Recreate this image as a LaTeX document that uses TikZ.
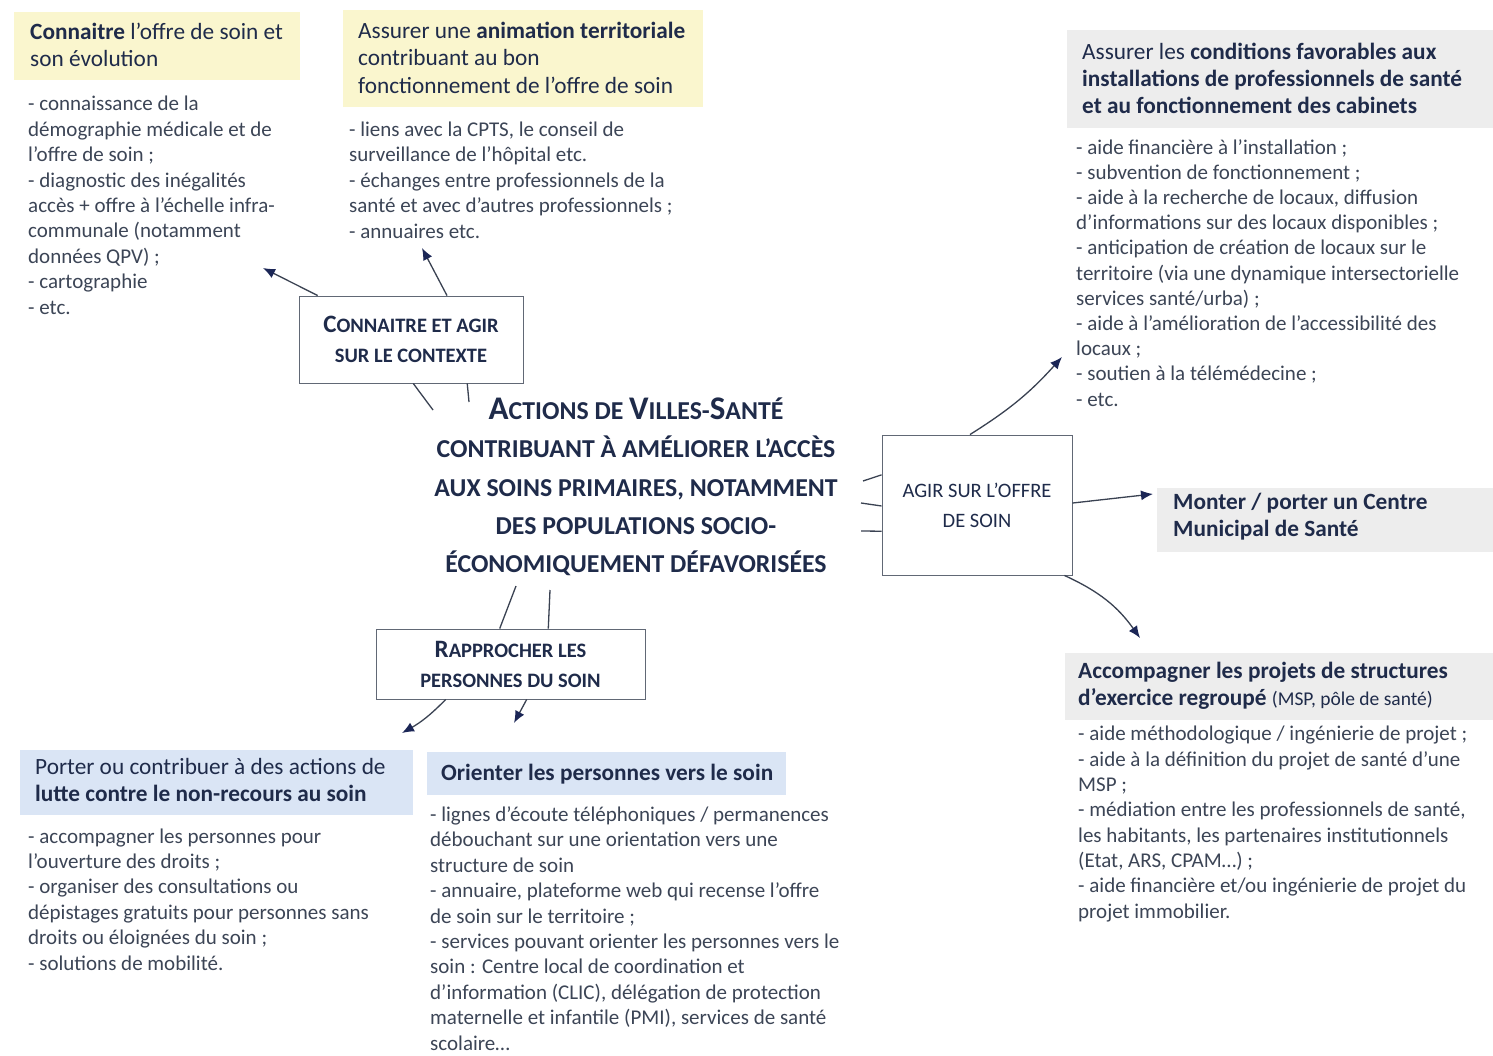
\documentclass[tikz,border=0pt]{standalone}
\usepackage{fontspec}
\setmainfont{Carlito}
\usetikzlibrary{arrows.meta,calc}
\definecolor{yel}{HTML}{FAF6CE}
\definecolor{blu}{HTML}{DAE5F5}
\definecolor{gry}{HTML}{EDEDED}
\definecolor{navy}{HTML}{1F2B4A}
\definecolor{bodyc}{HTML}{3C4556}
\definecolor{linec}{HTML}{3A4252}
\definecolor{tipc}{HTML}{1B2656}
\newcommand\TBig[1]{{\fontsize{33}{33}\selectfont #1}}
\newcommand\BBig[1]{{\fontsize{25}{25}\selectfont #1}}
\tikzset{
  x=1pt, y=-1pt,
  hfill/.style={inner sep=0pt, anchor=north west, minimum width=#1},
  htext/.style={inner sep=0pt, anchor=west, align=left, text=navy, font=\fontsize{23.3}{27.3}\selectfont},
  listtext/.style={inner sep=0pt, anchor=base west, align=left, text=bodyc, font=\fontsize{21}{25.4}\selectfont},
  actbox/.style={draw=linec!80, line width=0.9pt, fill=white, inner sep=0pt, align=center, text=navy, font=\fontsize{20.5}{30}\selectfont\bfseries},
  conn/.style={draw=linec, line width=1.3pt},
  arr/.style={conn, -{Latex[length=12pt, width=10pt, fill=tipc, color=tipc]}},
  titletext/.style={inner sep=0pt, align=center, text=navy, font=\fontsize{25.8}{38.3}\selectfont\bfseries}
}
\begin{document}
\begin{tikzpicture}
\useasboundingbox (0,0) rectangle (1493,1055);
\fill[white] (0,0) rectangle (1493,1055);

% ---------- heading boxes ----------
\node[hfill=286, minimum height=68, fill=yel] (h1) at (14,12) {};
\node[htext] (h1t) at ([xshift=16,yshift=1]h1.west) {\textbf{Connaitre} l’offre de soin et\\son évolution};

\node[hfill=360, minimum height=97, fill=yel] (h2) at (343,10) {};
\node[htext] (h2t) at ([xshift=15,yshift=1]h2.west) {Assurer une \textbf{animation territoriale}\\contribuant au bon\\fonctionnement de l’offre de soin};

\node[hfill=426, minimum height=98, fill=gry] (h3) at (1067,30) {};
\node[htext] (h3t) at ([xshift=15,yshift=1]h3.west) {Assurer les \textbf{conditions favorables aux}\\\textbf{installations de professionnels de santé}\\\textbf{et au fonctionnement des cabinets}};

\node[hfill=336, minimum height=64, fill=gry] (h4) at (1157,488) {};
\node[htext, font=\fontsize{23.3}{27}\selectfont\bfseries] (h4t) at ([xshift=16,yshift=4]h4.west) {Monter / porter un Centre\\Municipal de Santé};

\node[hfill=428, minimum height=67, fill=gry] (h5) at (1065,653) {};
\node[htext] (h5t) at ([xshift=13,yshift=1]h5.west) {\textbf{Accompagner les projets de structures}\\\textbf{d’exercice regroupé} {\fontsize{19.5}{20}\selectfont (MSP, pôle de santé)}};

\node[hfill=393, minimum height=65, fill=blu] (h6) at (20,750) {};
\node[htext] (h6t) at ([xshift=15,yshift=3]h6.west) {Porter ou contribuer à des actions de\\\textbf{lutte contre le non-recours au soin}};

\node[hfill=359, minimum height=43, fill=blu] (h7) at (427,752) {};
\node[htext] (h7t) at ([xshift=14,yshift=0]h7.west) {\textbf{Orienter les personnes vers le soin}};

% ---------- lists (anchored at the baseline of their last line) ----------
\node[listtext] (l1) at (28,314) {- connaissance de la\\démographie médicale et de\\l’offre de soin ;\\- diagnostic des inégalités\\accès + offre à l’échelle infra-\\communale (notamment\\données QPV) ;\\- cartographie\\- etc.};

\node[listtext] (l2) at (349,238) {- liens avec la CPTS, le conseil de\\surveillance de l’hôpital etc.\\- échanges entre professionnels de la\\santé et avec d’autres professionnels ;\\- annuaires etc.};

\node[listtext, font=\fontsize{21}{25.2}\selectfont] (l3) at (1076,406) {- aide financière à l’installation ;\\- subvention de fonctionnement ;\\- aide à la recherche de locaux, diffusion\\d’informations sur des locaux disponibles ;\\- anticipation de création de locaux sur le\\territoire (via une dynamique intersectorielle\\services santé/urba) ;\\- aide à l’amélioration de l’accessibilité des\\locaux ;\\- soutien à la télémédecine ;\\- etc.};

\node[listtext, font=\fontsize{21}{25.3}\selectfont] (l4) at (1078,918) {- aide méthodologique / ingénierie de projet ;\\- aide à la définition du projet de santé d’une\\MSP ;\\- médiation entre les professionnels de santé,\\les habitants, les partenaires institutionnels\\(Etat, ARS, CPAM…) ;\\- aide financière et/ou ingénierie de projet du\\projet immobilier.};

\node[listtext] (l5) at (28,970) {- accompagner les personnes pour\\l’ouverture des droits ;\\- organiser des consultations ou\\dépistages gratuits pour personnes sans\\droits ou éloignées du soin ;\\- solutions de mobilité.};

\node[listtext] (l6) at (430,1050) {- lignes d’écoute téléphoniques / permanences\\débouchant sur une orientation vers une\\structure de soin\\- annuaire, plateforme web qui recense l’offre\\de soin sur le territoire ;\\- services pouvant orienter les personnes vers le\\soin : Centre local de coordination et\\d’information (CLIC), délégation de protection\\maternelle et infantile (PMI), services de santé\\scolaire…};

% ---------- central title ----------
\node[titletext] (title) at (636,487) {\TBig{A}CTIONS DE \TBig{V}ILLES-\TBig{S}ANTÉ\\CONTRIBUANT À AMÉLIORER L’ACCÈS\\AUX SOINS PRIMAIRES, NOTAMMENT\\DES POPULATIONS SOCIO-\\ÉCONOMIQUEMENT DÉFAVORISÉES};

% ---------- action boxes ----------
\node[actbox, minimum width=224, minimum height=87] (ctx) at (411,339.5) {\BBig{C}ONNAITRE ET AGIR\\SUR LE CONTEXTE};
\node[actbox, minimum width=190, minimum height=140, font=\fontsize{20.5}{30}\selectfont] (offre) at (977,505) {AGIR SUR L’OFFRE\\DE SOIN};
\node[actbox, minimum width=269, minimum height=70] (rapp) at (510.5,664) {\BBig{R}APPROCHER LES\\PERSONNES DU SOIN};

% ---------- free ends ----------
\coordinate (a1) at (263,268);
\coordinate (a2) at (422,248);
\coordinate (t1) at (433,410);
\coordinate (t2) at (469,402);
\coordinate (t3) at (516,586);
\coordinate (t4) at (550,590);
\coordinate (t5) at (863,481);
\coordinate (t6) at (861,503);
\coordinate (t7) at (861,531);
\coordinate (a3) at (1062,357);
\coordinate (a4) at (1153,494);
\coordinate (a5) at (1140,638);
\coordinate (a6) at (402,733);
\coordinate (a7) at (514,723);

% ---------- connectors ----------
\draw[arr] ($(ctx.north west)!0.085!(ctx.north east)$) -- (a1);
\draw[arr] ($(ctx.north west)!0.66!(ctx.north east)$) -- (a2);
\draw[conn] ($(ctx.south west)!0.51!(ctx.south east)$) -- (t1);
\draw[conn] ($(ctx.south west)!0.75!(ctx.south east)$) -- (t2);

\draw[conn] (t3) -- ($(rapp.north west)!0.46!(rapp.north east)$);
\draw[conn] (t4) -- ($(rapp.north west)!0.64!(rapp.north east)$);
\draw[arr] ($(rapp.south west)!0.26!(rapp.south east)$) to[bend left=8] (a6);
\draw[arr] ($(rapp.south west)!0.56!(rapp.south east)$) -- (a7);

\draw[conn] (t5) -- ($(offre.north west)!0.286!(offre.south west)$);
\draw[conn] (t6) -- ($(offre.north west)!0.507!(offre.south west)$);
\draw[conn] (t7) -- ($(offre.north west)!0.686!(offre.south west)$);
\draw[arr] ($(offre.north west)!0.463!(offre.north east)$) to[bend right=8] (a3);
\draw[arr] ($(offre.north east)!0.486!(offre.south east)$) -- (a4);
\draw[arr] ($(offre.south west)!0.958!(offre.south east)$) to[bend left=15] (a5);
\end{tikzpicture}
\end{document}
